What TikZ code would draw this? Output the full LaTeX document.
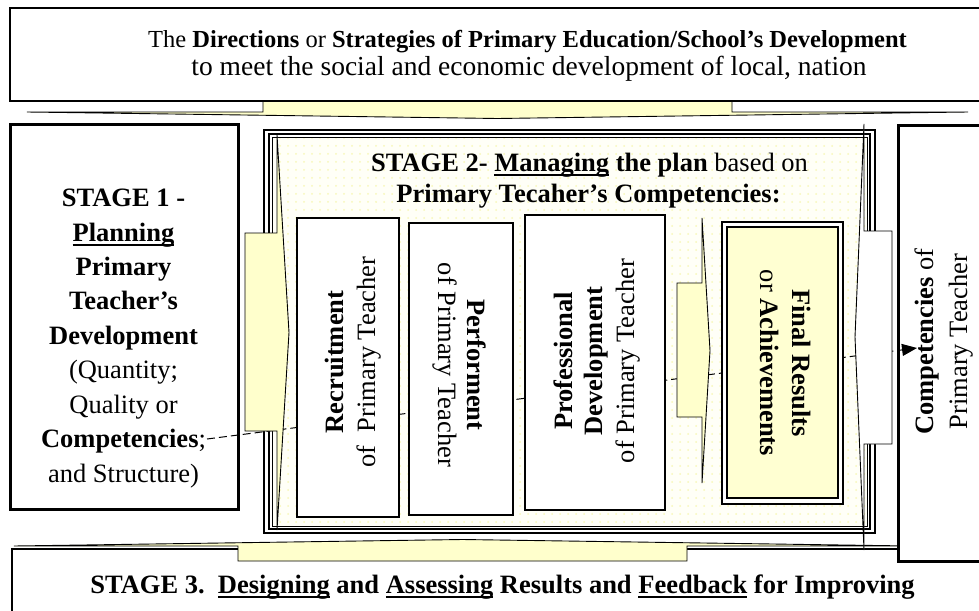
\documentclass[tikz,border=0pt]{standalone}
\usepackage{fontspec}
\setmainfont{Liberation Serif}
\usetikzlibrary{arrows.meta,patterns.meta}
\newcommand\ULine[1]{\setbox0\hbox{#1}\rlap{\vrule height -2.6pt depth 4.5pt width \wd0}\box0\relax}
\definecolor{lemon}{RGB}{255,255,204}
\definecolor{dotbg}{RGB}{255,255,247}
\definecolor{dotfg}{RGB}{248,248,185}
\definecolor{resfill}{RGB}{255,255,210}
\begin{document}
\begin{tikzpicture}[x=1pt,y=-1pt,
  txt/.style={font=\fontsize{26.5}{30}\selectfont, inner sep=0pt, anchor=base},
  toptxt/.style={inner sep=0pt, anchor=base},
  stframe/.style={draw, line width=1.5pt},
  heavy/.style={draw, line width=3pt, fill=white},
  thinbox/.style={draw, line width=1.5pt, fill=white},
  inbox/.style={draw, line width=1.5pt, fill=white},
  yarrow/.style={draw, line width=0.9pt, fill=lemon, line join=miter},
  warrow/.style={draw, line width=0.9pt, fill=white, line join=miter},
  conn/.style={draw, line width=1pt, dash pattern=on 8pt off 4pt, -{Triangle[length=15pt,width=12pt]}}
]
\useasboundingbox (0,0) rectangle (979,610);

% top arrow (down) and top box
\path[yarrow] (263,100) -- (732,100) -- (732,112) -- (968,112) -- (497.5,118.5) -- (27,112) -- (263,112) -- cycle;
\path[thinbox] (10,8) rectangle (1050,101);

% stage 1 box
\path[heavy] (10,124) rectangle (238,509);

% stage 2 frame
\path[fill=dotbg, postaction={pattern={Dots[distance=8pt,radius=1pt]}, pattern color=dotfg}] (272,137) rectangle (867,526);
\path[stframe] (264,130) rectangle (875,533);
\path[stframe] (269,134) rectangle (870,529);
\path[draw, line width=0.8pt] (272,137) rectangle (867,526);

% stage 3 box and bottom arrow (up)
\path[thinbox] (12,549) rectangle (1050,660);
\path[yarrow] (238,561) -- (238,546) -- (14,546) -- (462.5,539.5) -- (911,546) -- (687,546) -- (687,561) -- cycle;

% competencies box
\path[heavy] (898,125) rectangle (1050,561);

% dashed connector
\coordinate (dstart) at (207,439);
\coordinate (dend) at (917,348);
\draw[conn] (dstart) -- (dend);

% inner boxes
\path[inbox] (297,218) rectangle (399,517);
\path[inbox] (409,223) rectangle (513,515);
\path[inbox] (525,215) rectangle (665,510);
\path[draw, line width=1.4pt, fill=white] (722,222) rectangle (843,504);
\path[draw, line width=2.6pt, fill=resfill] (727,227) rectangle (838,498);

% block arrows
\path[yarrow] (245,233) -- (277,233) -- (277,135) -- (289,332.5) -- (277,530) -- (277,431) -- (245,431) -- cycle;
\path[yarrow] (677,283) -- (702,283) -- (702,218) -- (710,350.5) -- (702,483) -- (702,417) -- (677,417) -- cycle;
\path[warrow] (892,231) -- (864,231) -- (864,124) -- (855,337) -- (864,550) -- (864,444) -- (892,444) -- cycle;

% texts: top
\node[toptxt, font=\fontsize{24.5}{28}\selectfont] (t1) at (527.5,48) {The \textbf{Directions} or \textbf{Strategies of Primary Education/School’s Development}};
\node[toptxt, font=\fontsize{27.5}{30}\selectfont] (t2) at (529,75) {to meet the social and economic development of local, nation};

% stage 1
\node[txt] (s1a) at (123.5,206.5) {\textbf{STAGE 1 -}};
\node[txt] (s1b) at (123.5,241) {\textbf{\ULine{Planning}}};
\node[txt] (s1c) at (123.5,275.4) {\textbf{Primary}};
\node[txt] (s1d) at (123.5,309.9) {\textbf{Teacher’s}};
\node[txt] (s1e) at (123.5,344.3) {\textbf{Development}};
\node[txt] (s1f) at (123.5,378.8) {(Quantity;};
\node[txt] (s1g) at (123.5,413.2) {Quality or};
\node[txt] (s1h) at (123.5,447.7) {\textbf{Competencies};};
\node[txt] (s1i) at (123.5,482.1) {and Structure)};

% stage 2 title
\node[txt] (s2a) at (589.5,171) {\textbf{STAGE 2- \ULine{Managing} the plan} based on};
\node[txt] (s2b) at (588.5,202) {\textbf{Primary Tecaher’s Competencies:}};

% rotated box texts
\node[txt, rotate=90] (r1) at (343,362) {\textbf{Recruitment}};
\node[txt, rotate=90] (r2) at (375,362) {of\ \ Primary Teacher};
\node[txt, rotate=-90] (p1) at (467,365) {\textbf{Performent}};
\node[txt, rotate=-90] (p2) at (438,365) {of Primary Teacher};
\node[txt, rotate=90] (d1) at (572,361) {\textbf{Professional}};
\node[txt, rotate=90] (d2) at (602,361) {\textbf{Development}};
\node[txt, rotate=90] (d3) at (634,361) {of Primary Teacher};
\node[txt, rotate=-90] (f1) at (792,363) {\textbf{Final Results}};
\node[txt, rotate=-90] (f2) at (760,363) {or \textbf{Achievements}};
\node[txt, rotate=90] (c1) at (933,341.5) {\textbf{Competencies} of};
\node[txt, rotate=90] (c2) at (967,341.5) {Primary Teacher};

% stage 3
\node[txt] (s3) at (502.5,593) {\textbf{STAGE 3.\ \ \ULine{Designing} and \ULine{Assessing} Results and \ULine{Feedback} for Improving}};
\end{tikzpicture}
\end{document}
